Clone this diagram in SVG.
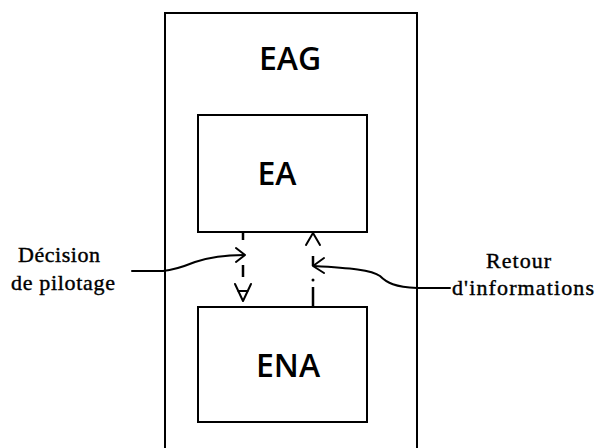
<svg xmlns="http://www.w3.org/2000/svg" width="595" height="448" viewBox="0 0 595 448">
<style>
.box{fill:none;stroke:#000;stroke-width:2}
.lbl{font-family:"Open Sans","Noto Sans",sans-serif;font-weight:600;font-size:32px;fill:#000}
.ser{font-family:"Liberation Serif","DejaVu Serif",serif;font-size:22px;fill:#000;stroke:#000;stroke-width:0.4}
.ln{fill:none;stroke:#000;stroke-width:2;stroke-linecap:round;stroke-linejoin:round}
.dl{fill:none;stroke:#000;stroke-width:2.5;stroke-linecap:butt}
</style>
<rect width="595" height="448" fill="#fff"/>
<g id="EAG">
<path class="box" d="M165,460 V13 H417 V460"/>
<text class="lbl" x="290" y="70" text-anchor="middle">EAG</text>
</g>
<g id="EA">
<rect class="box" x="198" y="115" width="169" height="117"/>
<text class="lbl" x="277" y="185" text-anchor="middle">EA</text>
</g>
<g id="ENA">
<rect class="box" x="198" y="307" width="169" height="115"/>
<text class="lbl" x="288" y="377" text-anchor="middle">ENA</text>
</g>
<g id="connectors">
<path class="dl" d="M243,232 V240 M243,265 V277"/>
<path class="ln" stroke-width="2.5" d="M235,284 L243,301 L251,284 M238,291 L248,291"/>
<path class="dl" d="M313,256 V266 M313,287 V306"/>
<circle cx="313" cy="280" r="1.5" fill="#000"/>
<path class="ln" stroke-width="2.5" d="M306,245 L313,233 L320,245"/>
<path class="ln" d="M132,271 H163 C175,270 185,266 195,262 C210,257 225,255 244,255"/>
<path class="ln" d="M236,248 L245,255 L236,262"/>
<path class="ln" d="M450,288 H417 C395,287 387,283 380,276 C372,270 350,268 314,266"/>
<path class="ln" d="M324,258 L313,266 L324,273"/>
</g>
<g id="labels">
<text class="ser" x="18" y="262" textLength="82" lengthAdjust="spacing">Décision</text>
<text class="ser" x="11" y="290" textLength="104" lengthAdjust="spacing">de pilotage</text>
<text class="ser" x="486" y="268" textLength="65" lengthAdjust="spacing">Retour</text>
<text class="ser" x="452" y="295" textLength="142" lengthAdjust="spacing">d'informations</text>
</g>
</svg>
